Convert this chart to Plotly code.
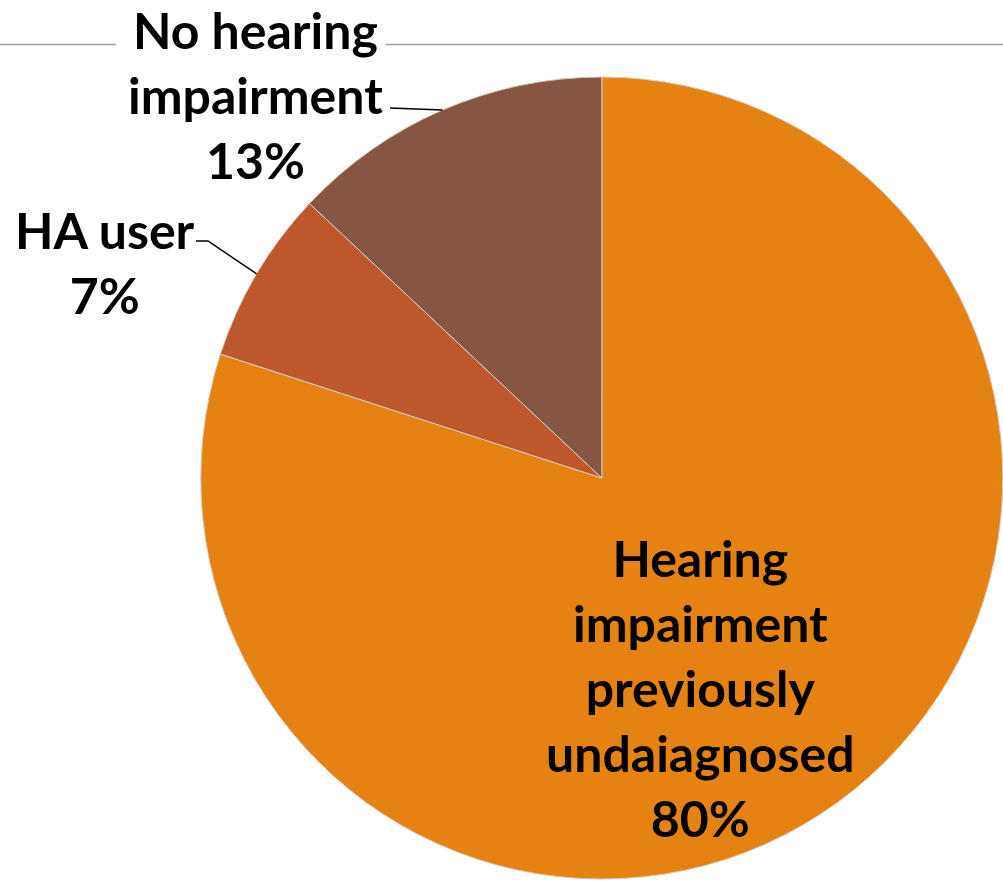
import math
import plotly.graph_objects as go

categories = ["Hearing impairment previously undaiagnosed", "HA user", "No hearing impairment"]
values = [80, 7, 13]
label_texts = ["Hearing<br>impairment<br>previously<br>undaiagnosed<br>80%", "HA user<br>7%", "No hearing<br>impairment<br>13%"]
colors = ["#E48312", "#BD592D", "#865642"]

W, H = 1003, 883
dom_x = [0.2, 1.0]
dom_y = [0.0045, 0.9128]

fig = go.Figure(go.Pie(
    labels=categories, values=values, sort=False, direction="clockwise", rotation=0,
    marker=dict(colors=colors, line=dict(color="#D9C9C0", width=1)),
    textinfo="none", hoverinfo="label+percent", showlegend=False,
    domain=dict(x=dom_x, y=dom_y),
))

# pie geometry (pixels) derived from domain
wpx = (dom_x[1] - dom_x[0]) * W
hpx = (dom_y[1] - dom_y[0]) * H
r = min(wpx, hpx) / 2
cx = (dom_x[0] + dom_x[1]) / 2 * W
cy = H - (dom_y[0] + dom_y[1]) / 2 * H

def arc_mid(i):
    tot = sum(values)
    start = sum(values[:i]) / tot * 360
    mid = start + values[i] / tot * 180
    a = math.radians(mid)
    return cx + r * math.sin(a), cy - r * math.cos(a)

def P(x, y):
    return x / W, 1 - y / H

font = dict(family="Lato, sans-serif", size=50, color="black")
# horizontal rule at top (interrupted by the top label)
ry = 1 - 44.5 / H
for xs, xe in [(0, 116), (386, W)]:
    fig.add_shape(type="line", xref="paper", yref="paper", x0=xs / W, x1=xe / W, y0=ry, y1=ry,
                  line=dict(color="#A0A0A0", width=1.5), layer="below")

# leader lines
ex, ey = arc_mid(2)
x0, y0 = P(390, 108)
x1, y1 = P(ex, ey)
fig.add_shape(type="path", xref="paper", yref="paper",
              path=f"M {x0} {y0} L {x1} {y1}", line=dict(color="black", width=1.5))
ex, ey = arc_mid(1)
xa, ya = P(196, 241)
xb, yb = P(208, 241)
x1, y1 = P(ex, ey)
fig.add_shape(type="path", xref="paper", yref="paper",
              path=f"M {xa} {ya} L {xb} {yb} L {x1} {y1}", line=dict(color="black", width=1.5))

ann_pos = [(700, 688), (105, 262), (255, 95)]
for txt, (px, py) in zip(label_texts, ann_pos):
    x, y = P(px, py)
    fig.add_annotation(text=f"<b>{txt}</b>", x=x, y=y, xref="paper", yref="paper",
                       xanchor="center", yanchor="middle", showarrow=False, font=font)

fig.update_layout(width=W, height=H, margin=dict(l=0, r=0, t=0, b=0),
                  paper_bgcolor="white", plot_bgcolor="white")

fig.write_html("out.html", config={"displayModeBar": False},
               post_script="document.body.style.margin='0';")
